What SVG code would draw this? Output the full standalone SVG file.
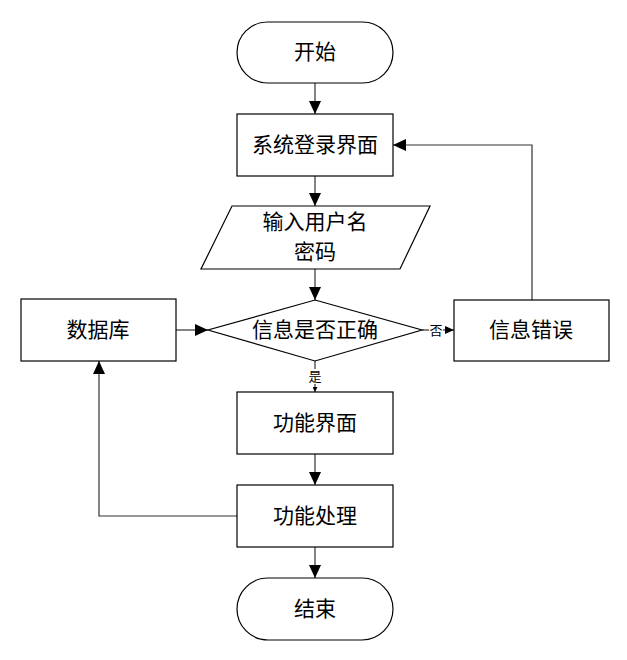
<svg xmlns="http://www.w3.org/2000/svg" width="627" height="660" viewBox="0 0 627 660">
<style>
.s{fill:#fff;stroke:#000;stroke-width:1.2}
.t{font-family:"Liberation Serif","Noto Sans CJK SC",serif;font-size:21px;fill:#000;text-anchor:middle;dominant-baseline:central}
.l{font-family:"Liberation Serif","Noto Sans CJK SC",serif;font-size:13px;fill:#000;text-anchor:middle;dominant-baseline:central}
.c{fill:none;stroke:#333;stroke-width:1.2}
</style>
<defs>
<marker id="a" markerUnits="userSpaceOnUse" markerWidth="14" markerHeight="12" refX="13" refY="6" orient="auto"><path d="M0,0 L13,6 L0,12 Z" fill="#000"/></marker>
<marker id="b" markerUnits="userSpaceOnUse" markerWidth="9" markerHeight="8" refX="9" refY="4" orient="auto"><path d="M0,0 L9,4 L0,8 Z" fill="#000"/></marker>
<marker id="d" markerUnits="userSpaceOnUse" markerWidth="5" markerHeight="5" refX="5" refY="2.5" orient="auto"><path d="M0,0 L5,2.5 L0,5 Z" fill="#000"/></marker>
</defs>
<rect width="627" height="660" fill="#fff"/>
<g id="connectors">
<line class="c" x1="315" y1="83" x2="315" y2="114" marker-end="url(#a)"/>
<line class="c" x1="315" y1="176" x2="315" y2="206" marker-end="url(#a)"/>
<line class="c" x1="315" y1="269" x2="315" y2="300" marker-end="url(#a)"/>
<line class="c" x1="176" y1="330" x2="208" y2="330" marker-end="url(#a)"/>
<line class="c" x1="422" y1="330" x2="454" y2="330" marker-end="url(#b)"/>
<rect x="429" y="322" width="14" height="16" fill="#fff"/>
<text class="l" x="436" y="330">否</text>
<polyline class="c" points="532,300 532,145 393,145" marker-end="url(#a)"/>
<line class="c" x1="315" y1="361" x2="315" y2="392" marker-end="url(#d)"/>
<rect x="308" y="369" width="14" height="15" fill="#fff"/>
<text class="l" x="315" y="376">是</text>
<line class="c" x1="315" y1="454" x2="315" y2="485" marker-end="url(#a)"/>
<line class="c" x1="315" y1="547" x2="315" y2="578" marker-end="url(#a)"/>
<polyline class="c" points="237,516 99,516 99,361" marker-end="url(#a)"/>
</g>
<g id="start"><rect class="s" x="237" y="22" width="156" height="61" rx="30.5"/><text class="t" x="315" y="52">开始</text></g>
<g id="login"><rect class="s" x="237" y="114" width="156" height="62"/><text class="t" x="315" y="145">系统登录界面</text></g>
<g id="input"><polygon class="s" points="232,206 430,206 400,269 201,269"/><text class="t" x="315" y="222">输入用户名</text><text class="t" x="315" y="252">密码</text></g>
<g id="check"><polygon class="s" points="315,300 422,330 315,361 208,330"/><text class="t" x="315" y="330">信息是否正确</text></g>
<g id="db"><rect class="s" x="21" y="299" width="155" height="62"/><text class="t" x="98" y="330">数据库</text></g>
<g id="error"><rect class="s" x="454" y="300" width="155" height="61"/><text class="t" x="531" y="330">信息错误</text></g>
<g id="func"><rect class="s" x="237" y="392" width="156" height="62"/><text class="t" x="315" y="423">功能界面</text></g>
<g id="proc"><rect class="s" x="237" y="485" width="156" height="62"/><text class="t" x="315" y="516">功能处理</text></g>
<g id="end"><rect class="s" x="237" y="578" width="156" height="62" rx="31"/><text class="t" x="315" y="609">结束</text></g>
</svg>
